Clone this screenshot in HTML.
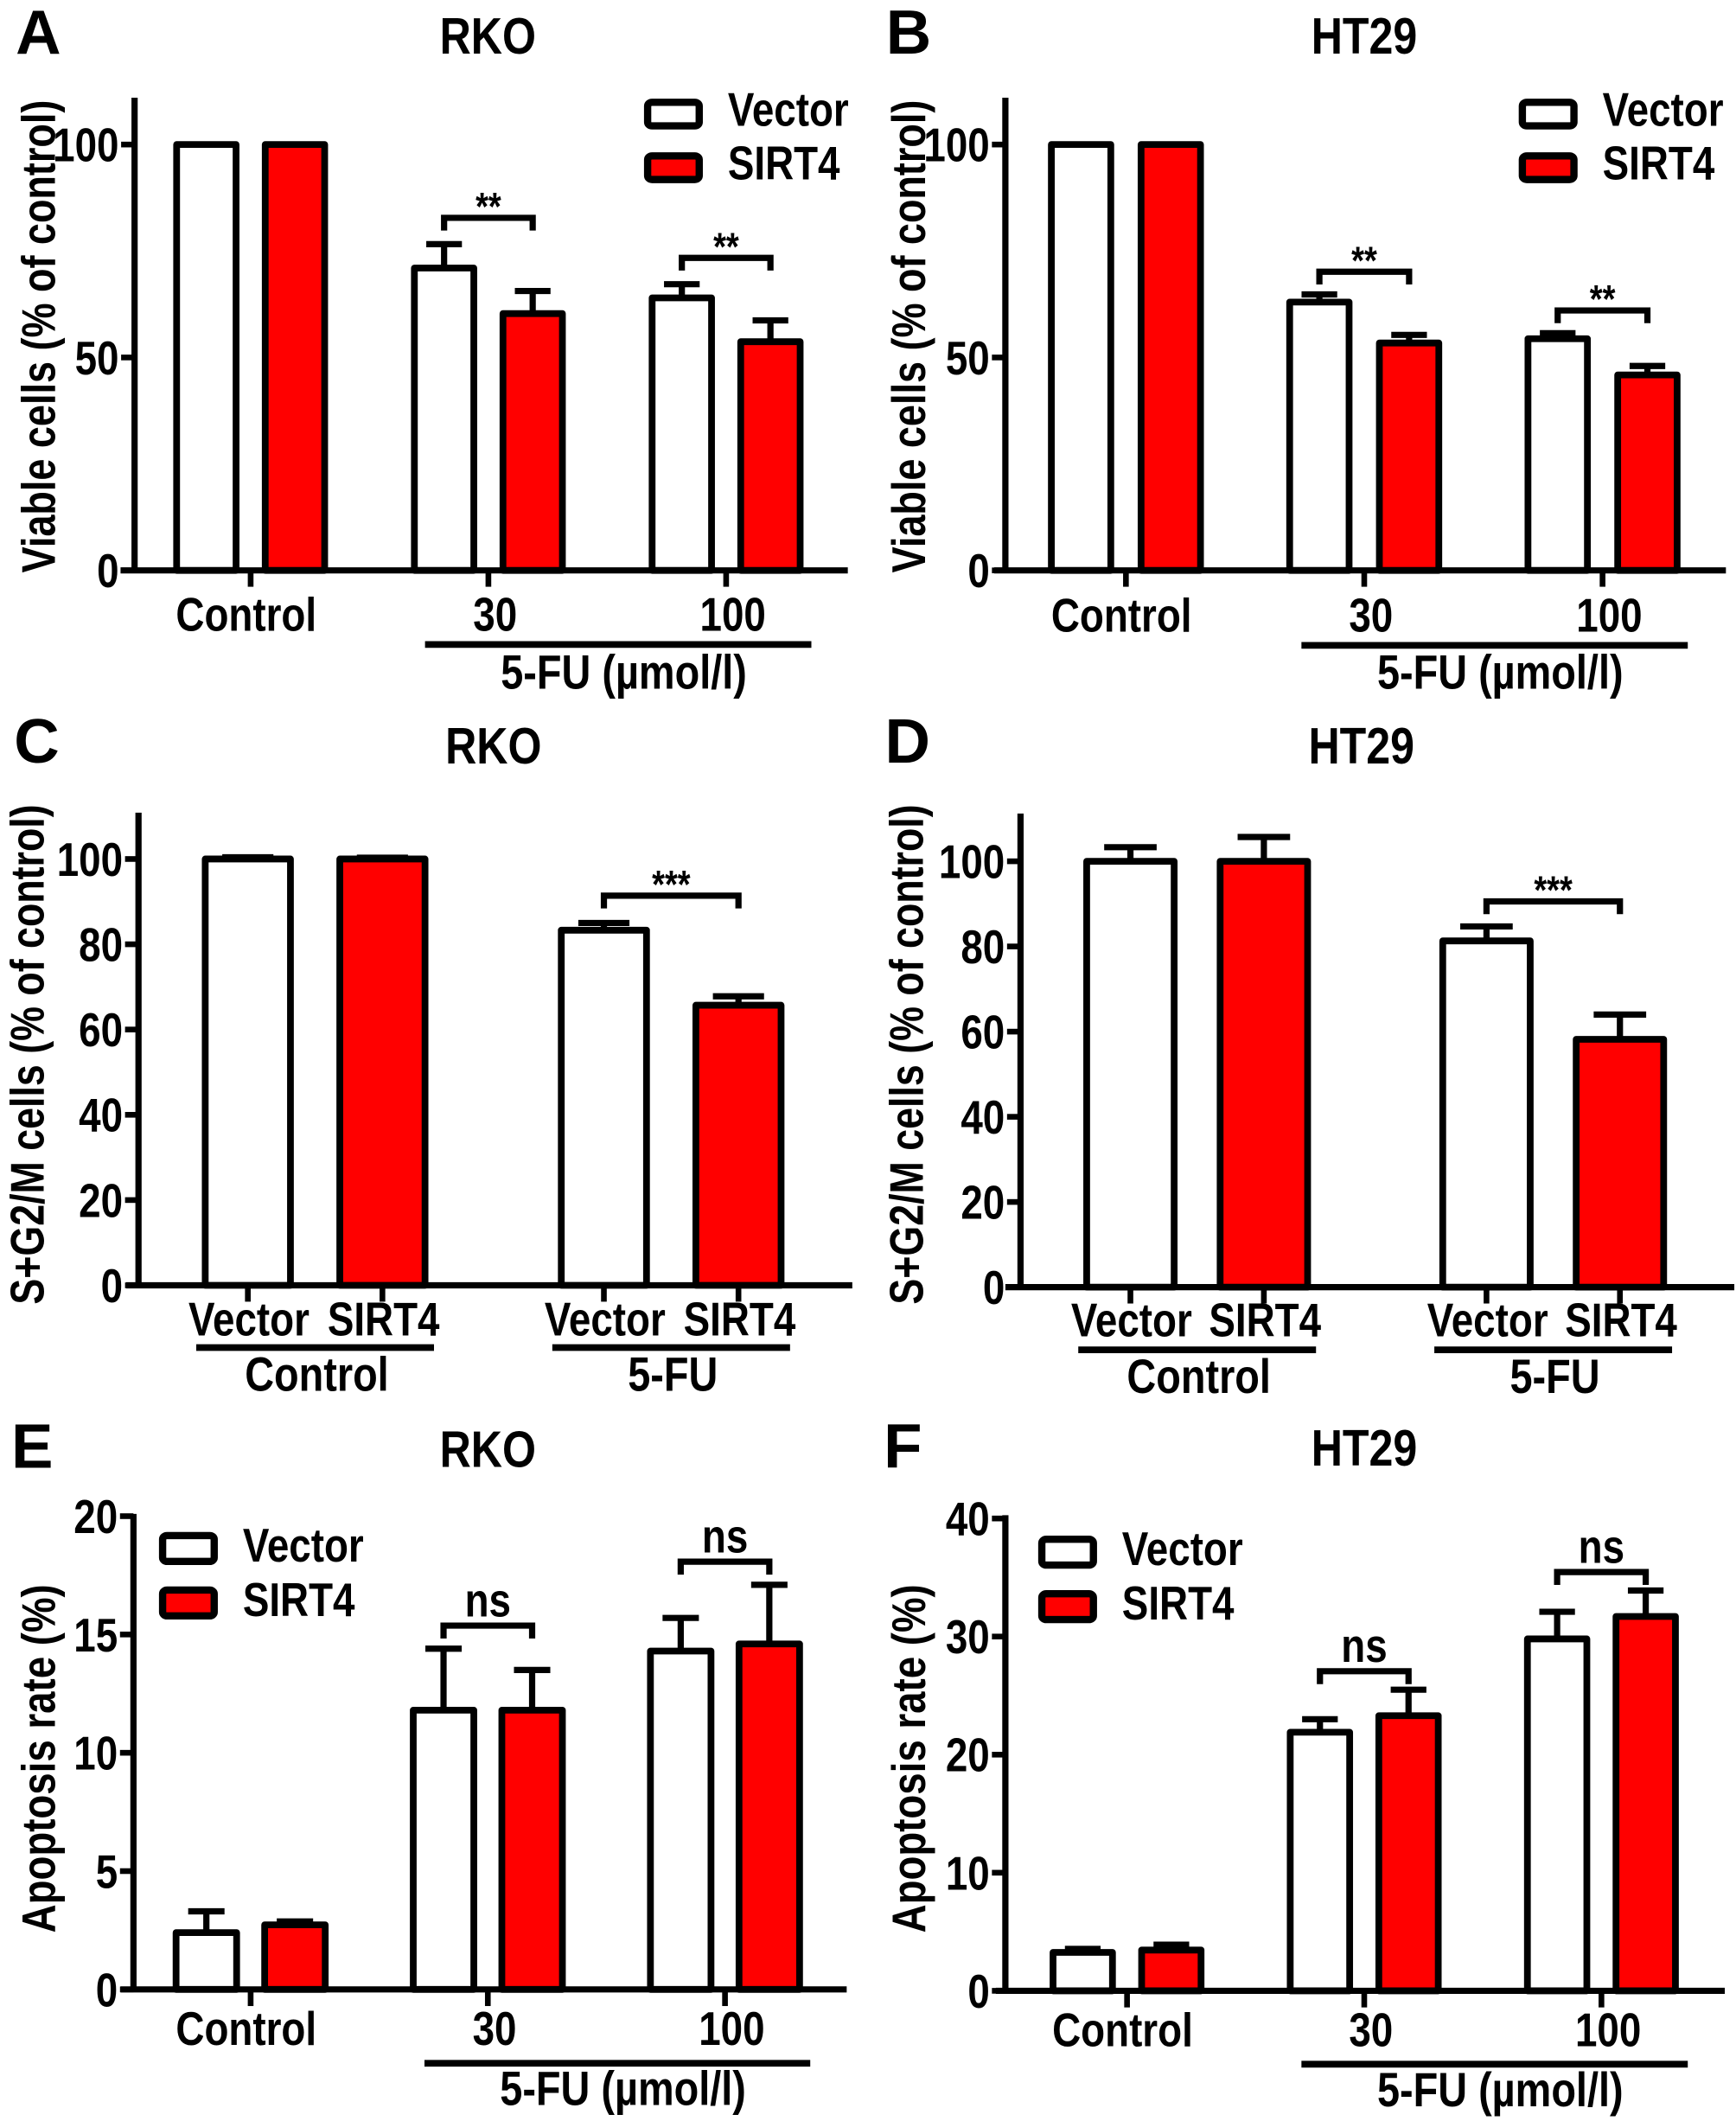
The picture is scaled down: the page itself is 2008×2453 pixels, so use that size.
<!DOCTYPE html>
<html><head><meta charset="utf-8">
<style>
html,body{margin:0;padding:0;background:#fff;}
svg{display:block;}
text{font-family:"Liberation Sans",Arial,sans-serif;font-weight:bold;fill:#000;}
</style></head>
<body>
<svg id="fig" xmlns="http://www.w3.org/2000/svg" width="2008" height="2453" viewBox="0 0 2008 2453"></svg>
<script>
// ---------- data ----------
const groupsABEF = ["Control", "30", "100"];
const groupsCD = ["Control", "5-FU"];
const aVec = [100, 71, 64];      const aVecErr = [0, 5.6, 3.2];
const aSirt = [100, 60.3, 53.7]; const aSirtErr = [0, 5.3, 5];
const bVec = [100, 63, 54.4];    const bVecErr = [0, 1.8, 1.3];
const bSirt = [100, 53.4, 45.9]; const bSirtErr = [0, 1.9, 2.1];
const cVec = [100, 83.3];        const cVecErr = [0.4, 1.7];
const cSirt = [100, 65.7];       const cSirtErr = [0.3, 2.1];
const dVec = [100, 81.3];        const dVecErr = [3.3, 3.4];
const dSirt = [100, 58.2];       const dSirtErr = [5.7, 5.8];
const eVec = [2.4, 11.8, 14.3];  const eVecErr = [0.9, 2.6, 1.4];
const eSirt = [2.73, 11.8, 14.6];const eSirtErr = [0.14, 1.7, 2.5];
const fVec = [3.25, 21.9, 29.8]; const fVecErr = [0.3, 1.1, 2.3];
const fSirt = [3.45, 23.3, 31.7];const fSirtErr = [0.45, 2.2, 2.2];
const ticksAB = [0, 50, 100];
const ticksCD = [0, 20, 40, 60, 80, 100];
const ticksE = [0, 5, 10, 15, 20];
const ticksF = [0, 10, 20, 30, 40];
const sigAB = ["**", "**"];
const sigCD = ["***"];
const sigEF = ["ns", "ns"];

const NS = "http://www.w3.org/2000/svg";
const K = 1004 / 1548;
const svg = document.getElementById('fig');
const narrow = [];
let KY = 0.5256;

function mk(parent, tag, attrs) {
  const e = document.createElementNS(NS, tag);
  for (const k in attrs) e.setAttribute(k, attrs[k]);
  if (tag === 'line' || tag === 'rect' || tag === 'path') {
    e.setAttribute('vector-effect', 'non-scaling-stroke');
    if (attrs['stroke-width']) e.setAttribute('stroke-width', (attrs['stroke-width'] * 0.6).toFixed(2));
  }
  parent.appendChild(e);
  return e;
}
function txt(parent, s, x, y, size, anchor, compress) {
  const t = mk(parent, 'text', {x: 0, y: 0, 'font-size': size, 'text-anchor': anchor || 'middle',
    transform: `translate(${x},${y}) scale(1,${(K / KY).toFixed(4)})`});
  t.textContent = s;
  if (compress !== false) narrow.push(t);
  return t;
}

function panel(c) {
  KY = c.ky;
  const g = mk(svg, 'g', {transform: `translate(${c.ox},${c.oy}) scale(${K},${c.ky})`});
  
  
  const ys = v => c.y0 - (v / c.ticks[c.ticks.length - 1]) * (c.y0 - c.yTopTick);
  const L = txt(g, c.letter, c.letterX, c.letterY, 112, 'start', false);
  
  
  const T = txt(g, c.title, c.titleX, c.titleY, 92);
  
  
  const ya = mk(g, 'line', {x1: c.axisX, y1: c.axisTop, x2: c.axisX, y2: c.y0 + 6, stroke: '#000', 'stroke-width': 12});
  
  
  const xa = mk(g, 'line', {x1: c.xStart, y1: c.y0, x2: c.xEnd, y2: c.y0, stroke: '#000', 'stroke-width': 12});
  
  
  c.ticks.forEach(v => {
    const tm = mk(g, 'line', {x1: c.axisX - 24, y1: ys(v), x2: c.axisX, y2: ys(v), stroke: '#000', 'stroke-width': 11});
    
    
    const tl = txt(g, String(v), c.axisX - 28, ys(v) + 30 * K / c.ky, 84, 'end');
    
    
  });
  const yt = mk(g, 'text', {x: 0, y: 0, 'font-size': 84, 'text-anchor': 'middle',
    transform: `translate(${c.ylX},${c.ylY}) scale(1,${(K / c.ky).toFixed(4)}) rotate(-90)`,
    textLength: (c.ylLen * c.ky / K).toFixed(1), lengthAdjust: 'spacingAndGlyphs'});
  yt.textContent = c.ylabel;
  
  
  const nG = c.vec.length;
  for (let i = 0; i < nG; i++) {
    const gc = c.gc0 + i * c.gstep;
    const series = [[c.vec, c.vecErr, '#fff', -1], [c.sirt, c.sirtErr, '#ff0000', 1]];
    series.forEach(([vals, errs, fill, side], si) => {
      const cx = gc + side * c.off;
      const top = ys(vals[i]);
      const et = ys(vals[i] + errs[i]);
      if (errs[i] > 0) {
        const ev = mk(g, 'line', {x1: cx, y1: top, x2: cx, y2: et, stroke: '#000', 'stroke-width': 12});
        
        
        const ec = mk(g, 'line', {x1: cx - c.bw * 0.3, y1: et, x2: cx + c.bw * 0.3, y2: et, stroke: '#000', 'stroke-width': 12});
        
        
      }
      const r = mk(g, 'rect', {x: cx - c.bw / 2, y: top, width: c.bw, height: c.y0 - top, fill: fill, stroke: '#000', 'stroke-width': 13, 'stroke-linejoin': 'round'});
      
      
      if (c.fourTicks) {
        const tk = mk(g, 'line', {x1: cx, y1: c.y0, x2: cx, y2: c.y0 + 36, stroke: '#000', 'stroke-width': 11});
        
        
        const bl = txt(g, si ? 'SIRT4' : 'Vector', cx + 2, c.subY, 84);
        
        
      }
    });
    if (!c.fourTicks) {
      const tk = mk(g, 'line', {x1: gc, y1: c.y0, x2: gc, y2: c.y0 + 36, stroke: '#000', 'stroke-width': 11});
      
      
      const gl = txt(g, c.groups[i], gc + (i === 0 ? -8 : 12), c.labY, 84);
      
      
    } else {
      const ul = mk(g, 'line', {x1: gc - 212, y1: c.ulY, x2: gc + 212, y2: c.ulY, stroke: '#000', 'stroke-width': 13});
      
      
      const gl = txt(g, c.groups[i], gc + 3, c.grpY, 86);
      
      
    }
  }
  if (!c.fourTicks) {
    const ul = mk(g, 'line', {x1: c.ulX1, y1: c.ulY, x2: c.ulX2, y2: c.ulY, stroke: '#000', 'stroke-width': 13});
    
    
    const fl = txt(g, '5-FU  (\u00b5mol/l)', (c.ulX1 + c.ulX2) / 2 + 10, c.fuY, 86);
    
    
  }
  c.sig.forEach((s, j) => {
    const gi = c.sigGroups[j];
    const gc = c.gc0 + gi * c.gstep;
    const x1 = gc - c.off, x2 = gc + c.off;
    const top = ys(c.vec[gi] + c.vecErr[gi]);
    const top2 = ys(c.sirt[gi] + c.sirtErr[gi]);
    const by = Math.min(top, top2) - c.sigGap;
    const br = mk(g, 'path', {d: `M${x1},${by + 28} V${by} H${x2} V${by + 28}`, fill: 'none', stroke: '#000', 'stroke-width': 12});
    
    
    const isNs = s === 'ns';
    const st = txt(g, s, (x1 + x2) / 2, isNs ? by - 20 : by + 5, isNs ? 84 : 70);
    
    
  });
  if (c.legX !== undefined) {
    [['Vector', '#fff'], ['SIRT4', '#ff0000']].forEach(([name, fill], li) => {
      const lg = mk(svg.lastChild === g ? g : g, 'g', {});
      
      
      const yy = c.legY + li * c.legStep;
      mk(lg, 'rect', {x: c.legX, y: yy, width: 92, height: c.legH, rx: 8, fill: fill, stroke: '#000', 'stroke-width': 14});
      txt(lg, name, c.legX + 143, yy + c.legH, 84, 'start');
    });
  }
}

const base = {letterY: 118, titleY: 118, ky: 820 / 1560, legStep: 118, legH: 52};
panel(Object.assign({}, base, {letter: 'A', title: 'RKO', ox: 0, oy: 0, letterX: 28, titleX: 870,
  axisX: 240, axisTop: 215, y0: 1255, yTopTick: 318, xStart: 215, xEnd: 1512, ticks: ticksAB,
  ylabel: 'Viable cells (% of control)', ylX: 98, ylY: 740, ylLen: 1040,
  vec: aVec, vecErr: aVecErr, sirt: aSirt, sirtErr: aSirtErr, groups: groupsABEF,
  gc0: 447, gstep: 424, off: 79, bw: 106, labY: 1388, ulX1: 758, ulX2: 1447, ulY: 1418, fuY: 1515,
  sig: sigAB, sigGroups: [1, 2], sigGap: 58, legX: 1155, legY: 225}));
panel(Object.assign({}, base, {letter: 'B', title: 'HT29', ox: 1004, oy: 0, letterX: 32, titleX: 885,
  axisX: 245, axisTop: 215, y0: 1255, yTopTick: 318, xStart: 225, xEnd: 1530, ticks: ticksAB,
  ylabel: 'Viable cells (% of control)', ylX: 102, ylY: 740, ylLen: 1040,
  vec: bVec, vecErr: bVecErr, sirt: bSirt, sirtErr: bSirtErr, groups: groupsABEF,
  gc0: 460, gstep: 425, off: 80, bw: 106, labY: 1390, ulX1: 773, ulX2: 1462, ulY: 1420, fuY: 1515,
  sig: sigAB, sigGroups: [1, 2], sigGap: 50, legX: 1167, legY: 225}));
panel(Object.assign({}, base, {letter: 'C', title: 'RKO', ox: 0, oy: 820, letterX: 25, titleX: 880, titleY: 120,
  axisX: 247, axisTop: 228, y0: 1268, yTopTick: 330, xStart: 225, xEnd: 1520, ticks: ticksCD,
  ylabel: 'S+G2/M cells (% of control)', ylX: 78, ylY: 760, ylLen: 1100,
  vec: cVec, vecErr: cVecErr, sirt: cSirt, sirtErr: cSirtErr, groups: groupsCD, fourTicks: true,
  gc0: 562, gstep: 635, off: 120, bw: 152, subY: 1378, ulY: 1405, grpY: 1500,
  sig: sigCD, sigGroups: [1], sigGap: 60}));
panel(Object.assign({}, base, {letter: 'D', title: 'HT29', ox: 1004, oy: 820, letterX: 30, titleX: 880, titleY: 120,
  axisX: 272, axisTop: 230, y0: 1272, yTopTick: 335, xStart: 245, xEnd: 1545, ticks: ticksCD,
  ylabel: 'S+G2/M cells (% of control)', ylX: 98, ylY: 760, ylLen: 1100,
  vec: dVec, vecErr: dVecErr, sirt: dSirt, sirtErr: dSirtErr, groups: groupsCD, fourTicks: true,
  gc0: 587, gstep: 635, off: 119, bw: 156, subY: 1380, ulY: 1410, grpY: 1505,
  sig: sigCD, sigGroups: [1], sigGap: 55}));
const baseEF = Object.assign({}, base, {ky: 833 / 1560, letterY: 145, legStep: 118, legH: 56});
panel(Object.assign({}, baseEF, {letter: 'E', title: 'RKO', ox: 0, oy: 1620, letterX: 20, titleX: 870, titleY: 143,
  axisX: 238, axisTop: 245, y0: 1275, yTopTick: 250, xStart: 215, xEnd: 1510, ticks: ticksE,
  ylabel: 'Apoptosis rate (%)', ylX: 98, ylY: 775, ylLen: 755,
  vec: eVec, vecErr: eVecErr, sirt: eSirt, sirtErr: eSirtErr, groups: groupsABEF,
  gc0: 447, gstep: 423, off: 79, bw: 108, labY: 1395, ulX1: 757, ulX2: 1445, ulY: 1435, fuY: 1525,
  sig: sigEF, sigGroups: [1, 2], sigGap: 50, legX: 290, legY: 292}));
panel(Object.assign({}, baseEF, {letter: 'F', title: 'HT29', ox: 1004, oy: 1620, letterX: 28, titleX: 885, titleY: 140,
  axisX: 245, axisTop: 248, y0: 1278, yTopTick: 255, xStart: 228, xEnd: 1528, ticks: ticksF,
  ylabel: 'Apoptosis rate (%)', ylX: 102, ylY: 775, ylLen: 755,
  vec: fVec, vecErr: fVecErr, sirt: fSirt, sirtErr: fSirtErr, groups: groupsABEF,
  gc0: 462, gstep: 423, off: 79, bw: 106, labY: 1398, ulX1: 773, ulX2: 1462, ulY: 1437, fuY: 1528,
  sig: sigEF, sigGroups: [1, 2], sigGap: 40, legX: 310, legY: 300}));

narrow.forEach(t => {
  const len = t.getComputedTextLength();
  if (len > 0) {
    t.setAttribute('textLength', (len * 0.84).toFixed(1));
    t.setAttribute('lengthAdjust', 'spacingAndGlyphs');
  }
});
</script>
</body></html>
